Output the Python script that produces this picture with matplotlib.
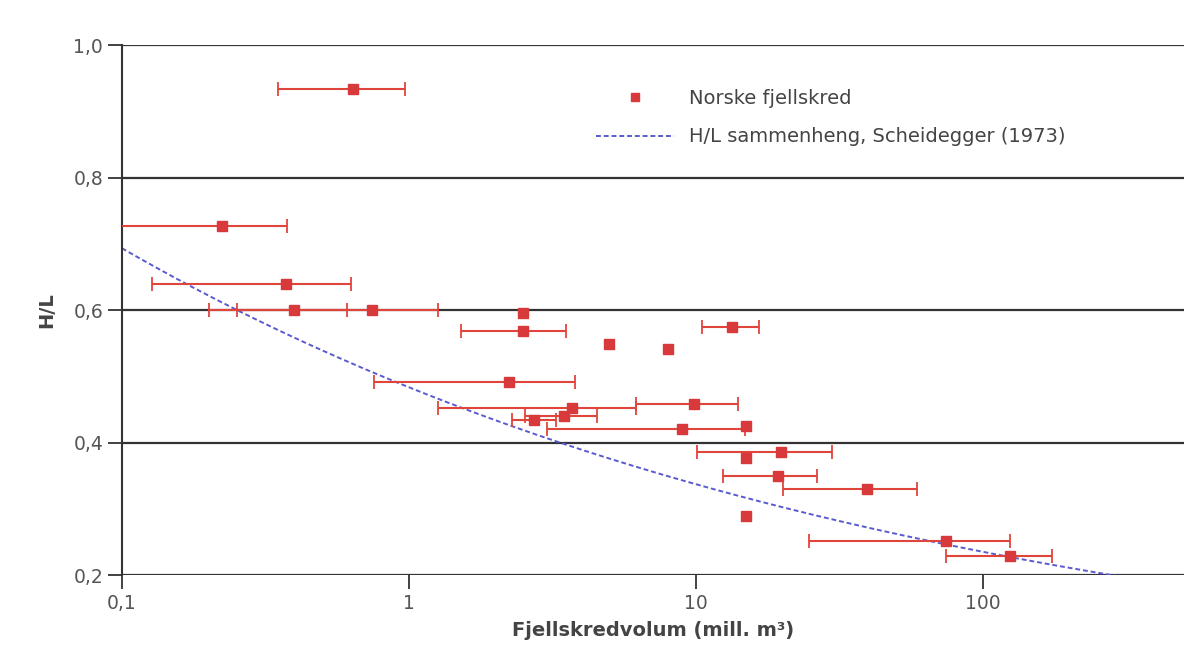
import numpy as np
import matplotlib.pyplot as plt

# Norske fjellskred: volume (mill. m3), H/L and volume range (lo, hi)
vol = [0.64, 0.223, 0.373, 0.398, 0.743, 2.50, 2.50, 13.3, 4.98, 7.99,
       2.23, 9.84, 3.70, 3.47, 2.73, 8.94, 14.9, 19.8, 14.9, 19.3,
       39.4, 14.9, 74.3, 124.0]
hl = [0.934, 0.727, 0.639, 0.600, 0.600, 0.595, 0.568, 0.574, 0.549, 0.541,
      0.491, 0.458, 0.452, 0.440, 0.434, 0.420, 0.425, 0.386, 0.377, 0.349,
      0.330, 0.289, 0.251, 0.229]
vol_lo = [0.35, 0.09, 0.127, 0.201, 0.251, None, 1.52, 10.5, None, None,
          0.755, 6.18, 1.26, 2.54, 2.29, 3.03, None, 10.1, None, 12.4,
          20.1, None, 24.8, 74.3]
vol_hi = [0.968, 0.376, 0.628, 0.608, 1.26, None, 3.52, 16.6, None, None,
          3.79, 14.0, 6.18, 4.52, 3.25, 14.8, None, 29.8, None, 26.4,
          58.9, None, 124.0, 173.0]

# Scheidegger (1973): log10(H/L) = a*log10(V) + b, V in m3
sch_a = -0.15666
sch_b = 0.62419

yticks = [0.2, 0.4, 0.6, 0.8, 1.0]
ytick_labels = ['0,2', '0,4', '0,6', '0,8', '1,0']
xticks = [0.1, 1, 10, 100]
xtick_labels = ['0,1', '1', '10', '100']

plt.rcParams['font.family'] = ['DejaVu Sans']

fig = plt.figure(figsize=(11.84, 6.66), dpi=100)
ax = fig.add_axes([0.103, 0.1366, 0.897, 0.7958])

# horizontal grid lines
for y in yticks:
    ax.axhline(y, color='#333333', linewidth=1.6, zorder=1)

# error bars (only the ones that have a range)
idx = [i for i in range(len(vol)) if vol_lo[i] is not None]
ex = np.array([vol[i] for i in idx])
ey = np.array([hl[i] for i in idx])
elo = ex - np.array([vol_lo[i] for i in idx])
ehi = np.array([vol_hi[i] for i in idx]) - ex
ax.errorbar(ex, ey, xerr=[elo, ehi], fmt='none', ecolor='#e0453c',
            elinewidth=1.5, capsize=5, capthick=1.3, zorder=3)

# Scheidegger curve
v = np.logspace(-1, np.log10(500), 300)
ax.plot(v, 10 ** (sch_a * np.log10(v * 1e6) + sch_b), linestyle=(0, (2.5, 1.5)),
        color='#5a5ad0', linewidth=1.4, zorder=2,
        label='H/L sammenheng, Scheidegger (1973)')

# points
ax.plot(vol, hl, 's', color='#d8393a', markersize=7.5, zorder=4,
        label='Norske fjellskred')

ax.set_xscale('log')
ax.set_xlim(0.1, 500)
ax.set_ylim(0.2, 1.0)
ax.set_xticks(xticks)
ax.set_xticklabels(xtick_labels)
ax.set_yticks(yticks)
ax.set_yticklabels(ytick_labels)
ax.minorticks_off()
ax.tick_params(axis='both', labelsize=13.5, labelcolor='#555555', color='#333333',
               length=10, width=1.3, direction='out')

for side in ['top', 'right']:
    ax.spines[side].set_visible(False)
ax.spines['bottom'].set_visible(False)
ax.spines['left'].set_color('#333333')
ax.spines['left'].set_linewidth(1.5)

ax.set_xlabel('Fjellskredvolum (mill. m³)', fontsize=14, fontweight='bold',
              color='#444444', labelpad=6)
ax.set_ylabel('H/L', fontsize=14, fontweight='bold', color='#444444', labelpad=12)

handles, labels = ax.get_legend_handles_labels()
ax.legend(handles[::-1], labels[::-1], loc='upper left',
          bbox_to_anchor=(0.43, 0.95), frameon=False, fontsize=14,
          labelcolor='#444444', handlelength=4, labelspacing=1.0,
          markerscale=0.8)

fig.savefig('out.png', dpi=100)
